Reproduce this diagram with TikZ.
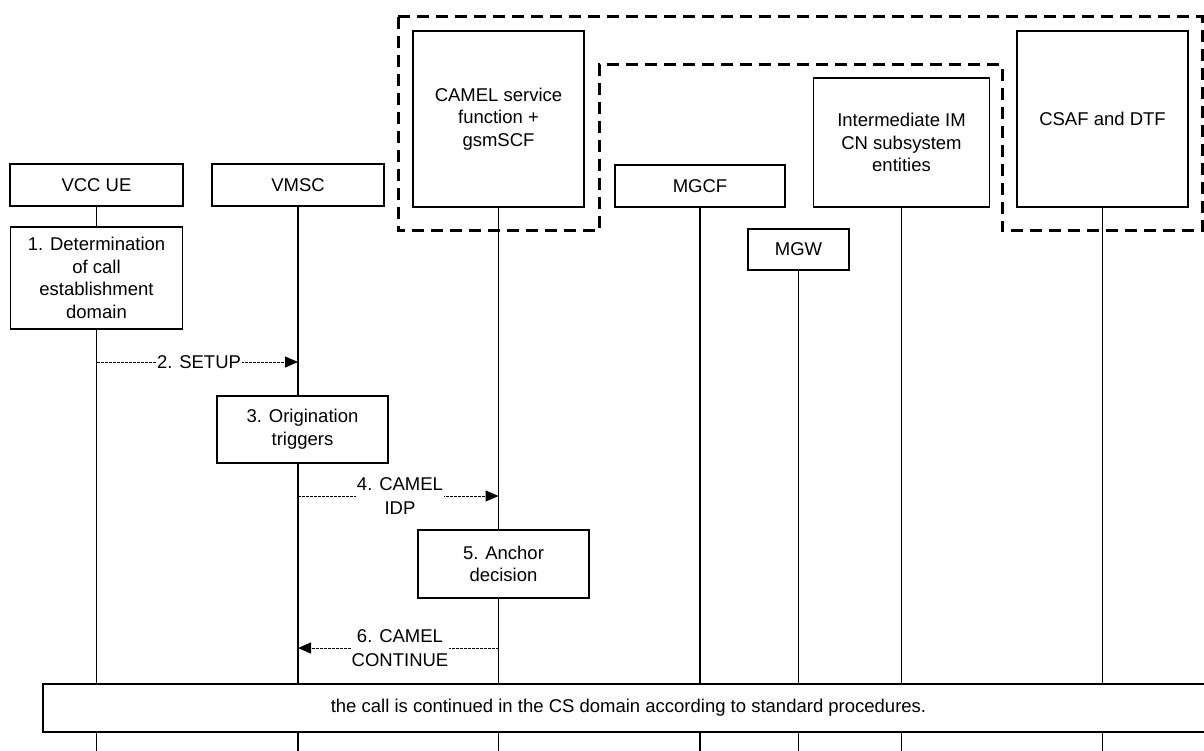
\documentclass[tikz,border=0pt]{standalone}
\usepackage{fontspec}
\setmainfont{Liberation Sans}
\usetikzlibrary{arrows.meta}
\begin{document}
\begin{tikzpicture}[x=1pt,y=-1pt,
  box/.style={draw, line width=1.5pt, fill=white, align=center, inner sep=0pt,
    font=\fontsize{18.5}{22.7}\selectfont},
  life/.style={line width=1.5pt},
  msg/.style={line width=1pt, dash pattern=on 3pt off 1pt, -{Triangle[length=13pt,width=11pt]}},
  grp/.style={line width=3pt, dash pattern=on 12pt off 7pt},
  lbl/.style={fill=white, align=center, inner sep=1pt, font=\fontsize{18.5}{23.5}\selectfont}]
\useasboundingbox (0,0) rectangle (1204,751);
\coordinate (bot) at (0,760);
% header nodes
\node[box, minimum width=173pt, minimum height=42pt] (ue) at (96.5,185) {VCC UE};
\node[box, minimum width=172pt, minimum height=42pt] (vmsc) at (298,185) {VMSC};
\node[box, minimum width=171pt, minimum height=176pt] (camel) at (498.5,119) {CAMEL service\\function +\\gsmSCF};
\node[box, minimum width=170pt, minimum height=42pt] (mgcf) at (700,186) {MGCF};
\node[box, minimum width=101pt, minimum height=41pt] (mgw) at (798.5,249.5) {MGW};
\node[box, minimum width=176pt, minimum height=129pt] (ims) at (901.5,142.5) {Intermediate IM\\CN subsystem\\entities};
\node[box, minimum width=171pt, minimum height=176pt] (csaf) at (1102.5,119) {CSAF and DTF};
% lifelines
\foreach \n in {ue,vmsc,camel,mgcf,mgw,ims,csaf}
  \draw[life] (\n.south) -- (\n.south |- bot);
% group boundary
\draw[grp] (398,17) -- (1202,17) -- (1202,231) -- (1002,231) -- (1002,65)
  -- (599,65) -- (599,231) -- (398,231) -- cycle;
% steps
\node[box, minimum width=172pt, minimum height=102pt] (s1) at (96.5,278) {1. Determination\\of call\\establishment\\domain};
\node[box, minimum width=171pt, minimum height=67pt] (s3) at (302.5,429.5) {3. Origination\\triggers};
\node[box, minimum width=171pt, minimum height=68pt] (s5) at (503.5,564) {5. Anchor\\decision};
\node[box, minimum width=1171pt, minimum height=48pt] (s7) at (628.5,708) {the call is continued in the CS domain according to standard procedures.};
% messages
\coordinate (m2a) at (ue.south |- 0,362);
\coordinate (m2b) at (vmsc.south |- 0,362);
\coordinate (m4a) at (vmsc.south |- 0,496);
\coordinate (m4b) at (camel.south |- 0,496);
\coordinate (m6a) at (camel.south |- 0,648);
\coordinate (m6b) at (vmsc.south |- 0,648);
\draw[msg] (m2a) -- (m2b);
\draw[msg] (m4a) -- (m4b);
\draw[msg] (m6a) -- (m6b);
\node[lbl] (l2) at (199,362) {2. SETUP};
\node[lbl] (l4) at (400,496) {4. CAMEL\\IDP};
\node[lbl] (l6) at (400,648) {6. CAMEL\\CONTINUE};
\end{tikzpicture}
\end{document}
